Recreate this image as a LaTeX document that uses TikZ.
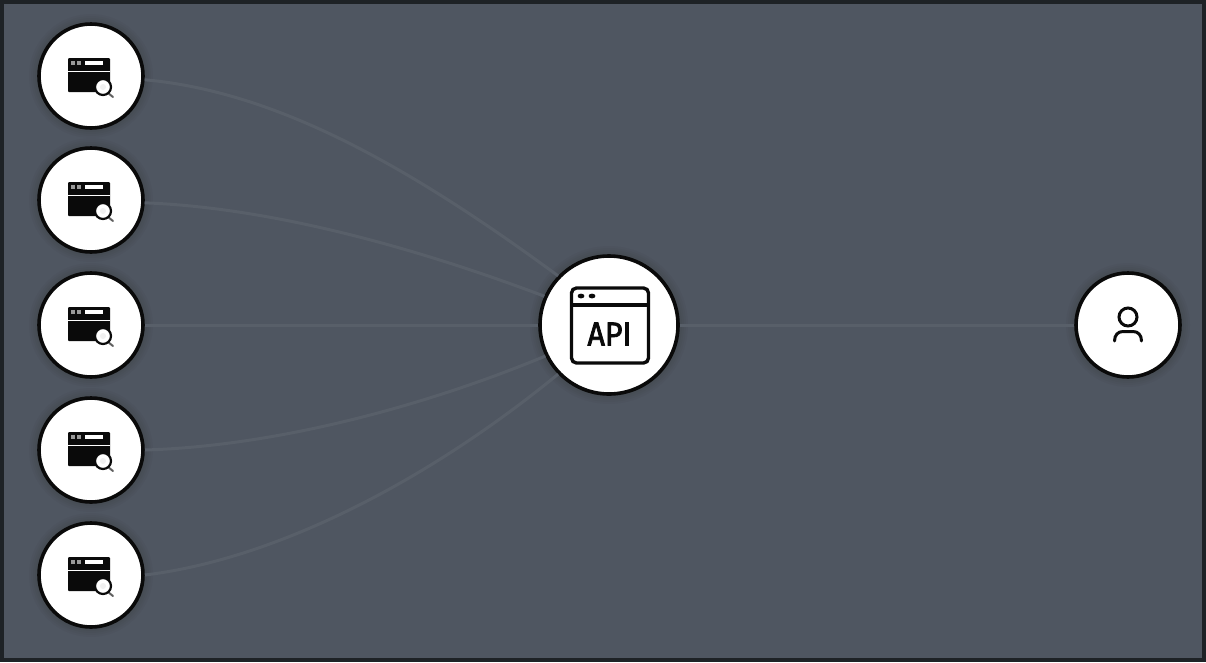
\documentclass[tikz,border=0pt]{standalone}
\usepackage{fontspec}
\setmainfont{Fira Sans}
\definecolor{bgc}{HTML}{4F5661}
\definecolor{framec}{HTML}{1E2226}
\definecolor{edgec}{HTML}{585F69}
\definecolor{inkc}{HTML}{0A0A0A}
\tikzset{
  x=1pt,y=-1pt,
  disc/.style={circle,draw=inkc,fill=white,line width=3.6pt,inner sep=0pt,minimum size=#1},
  link/.style={draw=edgec,line width=3pt},
  halo/.style={fill=black,opacity=.025},
  searchicon/.pic={
    \fill[inkc,rounded corners=1pt] (-23,-18) rectangle (19,16);
    \fill[white] (-23,-5.5) rectangle (19,-4.2);
    \fill[white] (-6,-15) rectangle (12,-11);
    \fill[gray!80] (-20,-15) rectangle (-16,-11);
    \fill[gray!80] (-14,-15) rectangle (-10,-11);
    \draw[inkc!65,line width=2pt,line cap=round] (17,17) -- (22,21);
    \draw[inkc,fill=white,line width=2.2pt] (12,11) circle[radius=8];
    \fill[gray!12] (12,11) circle[radius=3];
  }
}
\newcommand{\halos}[3]{%
  \foreach \e in {2,4,6,8,10}{\fill[halo] (#1,#2) circle[radius=#3+\e];}}
\begin{document}
\begin{tikzpicture}
\useasboundingbox (0,0) rectangle (1206,662);
\fill[framec] (0,0) rectangle (1206,662);
\fill[bgc] (4,4) rectangle (1202,658);

\coordinate (s1c) at (91,76);
\coordinate (s2c) at (91,200);
\coordinate (s3c) at (91,325);
\coordinate (s4c) at (91,450);
\coordinate (s5c) at (91,575);
\coordinate (apic) at (609,325);
\coordinate (userc) at (1128,325);

\halos{91}{76}{52}\halos{91}{200}{52}\halos{91}{325}{52}\halos{91}{450}{52}\halos{91}{575}{52}
\halos{609}{325}{69}\halos{1128}{325}{52}

\node[disc=104pt] (s1) at (s1c) {};
\node[disc=104pt] (s2) at (s2c) {};
\node[disc=104pt] (s3) at (s3c) {};
\node[disc=104pt] (s4) at (s4c) {};
\node[disc=104pt] (s5) at (s5c) {};
\node[disc=138pt] (api) at (apic) {};
\node[disc=104pt] (user) at (userc) {};

\path[link] (s1.-4) .. controls (282,92) and (418,173) .. (api.136);
\path[link] (s2.-3) .. controls (280,208) and (430,253) .. (api.156);
\path[link] (s3) -- (api);
\path[link] (s4.0) .. controls (280,446) and (430,404) .. (api.-154);
\path[link] (s5.0) .. controls (270,560) and (420,487) .. (api.-136);
\path[link] (api) -- (user);

\pic at (s1c) {searchicon};
\pic at (s2c) {searchicon};
\pic at (s3c) {searchicon};
\pic at (s4c) {searchicon};
\pic at (s5c) {searchicon};

% API window icon
\draw[inkc,line width=3.4pt,rounded corners=5pt] (571.5,288) rectangle (648.5,363);
\draw[inkc,line width=3.2pt] (571.5,305) -- (648.5,305);
\fill[inkc] (581,296) ellipse[x radius=3.4,y radius=2.4];
\fill[inkc] (592,296) ellipse[x radius=3.4,y radius=2.4];
\node[inner sep=0pt,text=inkc,font=\fontsize{33}{33}\selectfont] (apilabel) at (609.5,334) {\scalebox{.92}[1]{\addfontfeatures{FakeBold=2.5}API}};

% user icon
\draw[inkc,line width=3pt] (1128,317) circle[radius=9];
\draw[inkc,line width=3pt,line cap=round] (1114.5,341) .. controls (1114.5,335) and (1118,331.5) .. (1123,331.5) -- (1133,331.5) .. controls (1138,331.5) and (1141.5,335) .. (1141.5,341);
\end{tikzpicture}
\end{document}
